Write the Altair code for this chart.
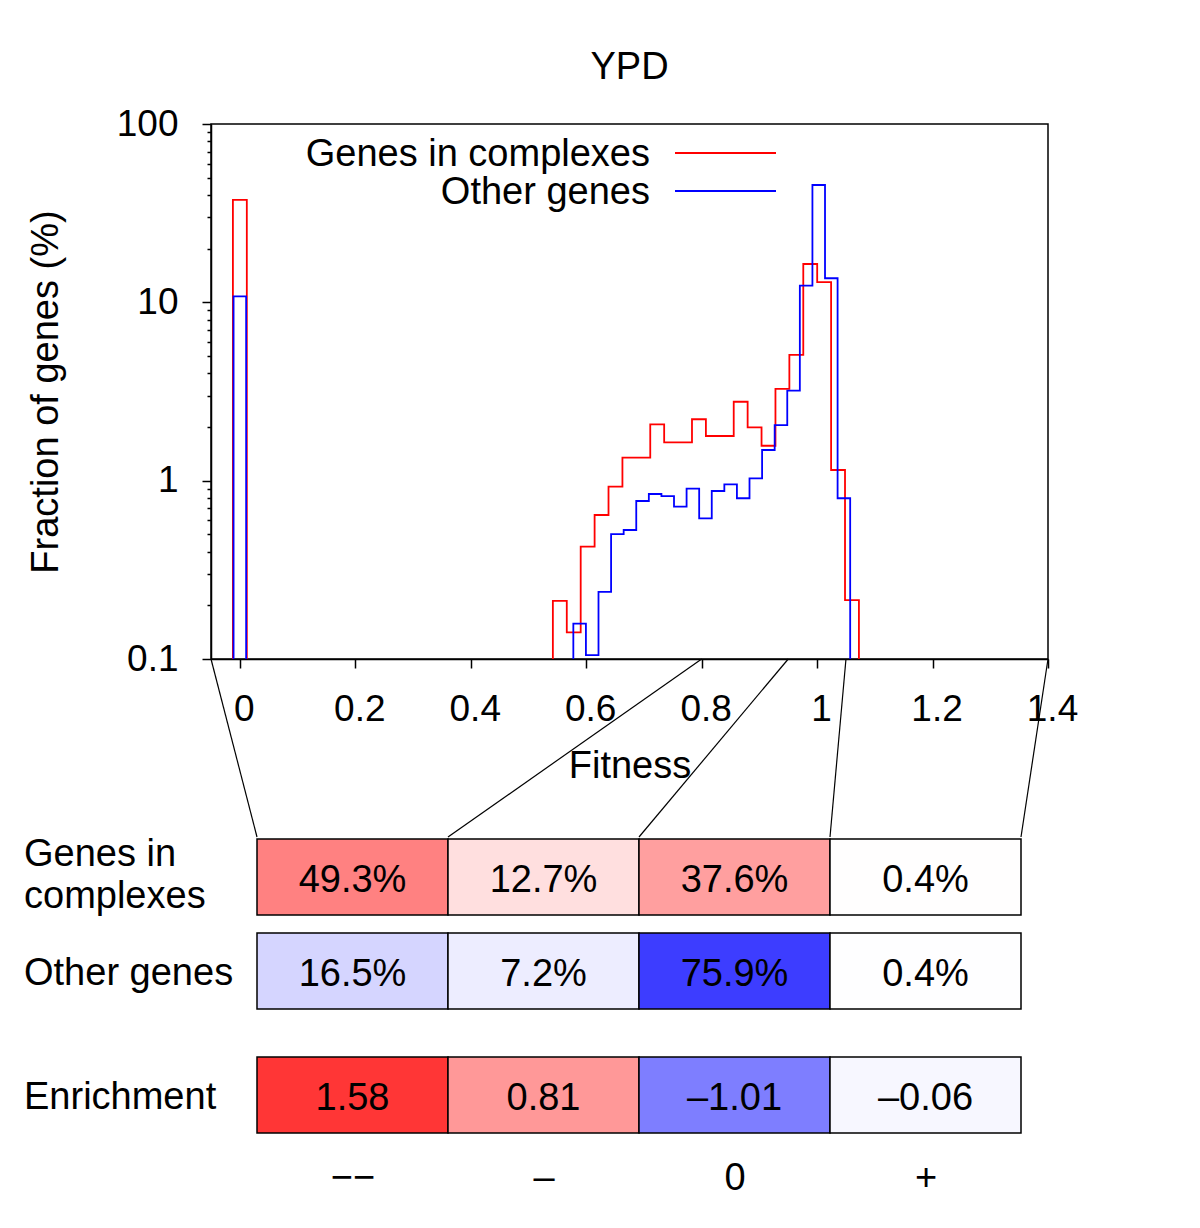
import json
import altair as alt
import pandas as pd

FONT = "Liberation Sans"

# ------------------------------------------------------------------ data
chart_title = "YPD"
series_names = ["Genes in complexes", "Other genes"]
series_colors = ["#ff0000", "#0000ff"]

# Histogram of fitness (% of genes per bin).
# bin k of a series is centred on k * bin_width; the block of bins starts at *_first_bin
complex_bin_width = 0.0241
complex_zero_bin = 37.5
complex_first_bin = 23
complex_values = [0.212, 0.141, 0.427, 0.642, 0.925, 1.346, 1.346, 2.07, 1.64, 1.64, 2.21,
                  1.78, 1.78, 2.77, 1.99, 1.57, 3.27, 5.07, 16.4, 12.97, 1.148, 0.214]

other_bin_width = 0.0218
other_zero_bin = 10.8
other_first_bin = 27
other_values = [0.158, 0.105, 0.238, 0.502, 0.529, 0.769, 0.842, 0.82, 0.715, 0.902, 0.614,
                0.875, 0.954, 0.797, 1.03, 1.486, 2.05, 3.2, 12.4, 45.5, 13.65, 0.797]

x_ticks = [0, 0.2, 0.4, 0.6, 0.8, 1.0, 1.2, 1.4]
y_ticks = [0.1, 1, 10, 100]
y_minor_ticks = [0.2, 0.3, 0.4, 0.5, 0.6, 0.7, 0.8, 0.9,
                 2, 3, 4, 5, 6, 7, 8, 9,
                 20, 30, 40, 50, 60, 70, 80, 90]

# fitness classes
class_edges = [-0.05, 0.8, 0.95, 1.05, 1.4]
class_symbols = ["−−", "–", "0", "+"]
row_labels = ["Genes in\ncomplexes", "Other genes", "Enrichment"]
complex_pct = [49.3, 12.7, 37.6, 0.4]
other_pct = [16.5, 7.2, 75.9, 0.4]
enrichment = [1.58, 0.81, -1.01, -0.06]

# ------------------------------------------------------------------ layout
W, H = 837, 535
X_DOMAIN = [-0.05, 1.4]
Y_DOMAIN = [0.1, 100]
FS = 38
CELL_W = 191
TABLE_LEFT = 46       # px from plot left to table left
TABLE_RIGHT = 27      # px from table right to plot right
ROW_H = 76
ROW_GAPS = [18, 48]
CONNECTOR_DROP = 178  # px from histogram axis to table top
LINE_H = 42
BLOCK_SHIFT = 25      # upward shift per extra label line

c_min = -TABLE_LEFT / CELL_W
c_max = 4 + TABLE_RIGHT / CELL_W


def cell_to_fitness(c):
    return X_DOMAIN[0] + (c - c_min) * (X_DOMAIN[1] - X_DOMAIN[0]) / (c_max - c_min)


# ------------------------------------------------------------------ histogram vertices
def step_frame(width, zero_val, first, values):
    base = Y_DOMAIN[0]
    rows = []
    pts = [(-width / 2, base), (-width / 2, zero_val), (width / 2, zero_val), (width / 2, base)]
    for i, (x, y) in enumerate(pts):
        rows.append({"x": x, "y": y, "seg": "zero", "ord": i})
    edges = [(first + k - 0.5) * width for k in range(len(values) + 1)]
    pts = [(edges[0], base)]
    for k, v in enumerate(values):
        pts.append((edges[k], v))
        pts.append((edges[k + 1], v))
    pts.append((edges[-1], base))
    for i, (x, y) in enumerate(pts):
        rows.append({"x": x, "y": y, "seg": "main", "ord": i})
    return pd.DataFrame(rows)


df_complex = step_frame(complex_bin_width, complex_zero_bin, complex_first_bin, complex_values)
df_other = step_frame(other_bin_width, other_zero_bin, other_first_bin, other_values)

y_table_top = Y_DOMAIN[0] * 10 ** (-CONNECTOR_DROP / (H / 3))
conn_rows = []
for i, e in enumerate(class_edges):
    conn_rows.append({"x": e, "y": Y_DOMAIN[0], "seg": i, "ord": 0})
    conn_rows.append({"x": cell_to_fitness(i), "y": y_table_top, "seg": i, "ord": 1})
df_conn = pd.DataFrame(conn_rows)

x_scale = alt.Scale(domain=X_DOMAIN, nice=False, zero=False)
y_scale = alt.Scale(type="log", domain=Y_DOMAIN, nice=False)

x_enc = alt.X("x:Q", scale=x_scale,
              axis=alt.Axis(values=x_ticks, format="~g", title="Fitness", tickSize=9,
                            labelPadding=23, labelOffset=4, labelFontSize=37,
                            titleFontSize=FS, titlePadding=20, labelFlush=False, grid=False))
y_main = alt.Y("y:Q", scale=y_scale,
               axis=alt.Axis(orient="left", values=y_ticks, format="~g",
                             title="Fraction of genes (%)", tickSize=9, labelPadding=24,
                             labelFontSize=37, titleFontSize=FS, titlePadding=51,
                             labelFlush=False, grid=False))
y_minor = alt.Y("y:Q", scale=y_scale,
                axis=alt.Axis(orient="left", values=y_minor_ticks, labels=False,
                              domain=False, tickSize=4, title=None, grid=False))
y_none = alt.Y("y:Q", scale=y_scale, axis=None)

line_complex = alt.Chart(df_complex).mark_line(
    color=series_colors[0], strokeWidth=1.8, clip=False).encode(
    x=x_enc, y=y_main, detail="seg:N", order="ord:Q")
line_other = alt.Chart(df_other).mark_line(
    color=series_colors[1], strokeWidth=1.8, clip=False).encode(
    x=x_enc, y=y_minor, detail="seg:N", order="ord:Q")
connectors = alt.Chart(df_conn).mark_line(
    color="black", strokeWidth=1.2, strokeJoin="round", clip=False).encode(
    x=x_enc, y=y_none, detail="seg:N", order="ord:Q")

legend_layers = []
for i, (name, col) in enumerate(zip(series_names, series_colors)):
    ly = 29 + 38 * i
    dfl = pd.DataFrame({"t": [name]})
    legend_layers.append(
        alt.Chart(dfl).mark_text(align="right", baseline="middle", fontSize=FS, font=FONT,
                                 color="black").encode(
            text="t:N", x=alt.value(439), y=alt.value(ly + 2)))
    legend_layers.append(
        alt.Chart(dfl).mark_rule(color=col, strokeWidth=1.8).encode(
            x=alt.value(464), x2=alt.value(565), y=alt.value(ly)))

hist = alt.layer(line_complex, line_other, connectors, *legend_layers).resolve_axis(
    y="independent").properties(
    width=W, height=H,
    title=alt.TitleParams(chart_title, fontSize=FS, font=FONT, fontWeight="normal",
                          anchor="middle", offset=18, color="black"),
    view=alt.ViewBackground(stroke="black", strokeWidth=1.5))

# ------------------------------------------------------------------ table
row_tops = [0, ROW_H + ROW_GAPS[0], 2 * ROW_H + ROW_GAPS[0] + ROW_GAPS[1]]
TABLE_H = row_tops[-1] + ROW_H

cells = []
for r, (vals, kind) in enumerate([(complex_pct, "pct+"), (other_pct, "pct-"), (enrichment, "enr")]):
    for c, v in enumerate(vals):
        if kind == "pct+":
            s, txt = v / 100, f"{v:.1f}%"
        elif kind == "pct-":
            s, txt = -v / 100, f"{v:.1f}%"
        else:
            s, txt = v / 2, f"{v:.2f}".replace("-", "–")
        cells.append({"c0": c, "c1": c + 1, "cm": c + 0.5,
                      "top": row_tops[r], "bottom": row_tops[r] + ROW_H,
                      "mid": row_tops[r] + ROW_H / 2, "s": s, "txt": txt})
df_cells = pd.DataFrame(cells)
df_rows = pd.DataFrame({
    "label": row_labels,
    "ly": [t + ROW_H / 2 - lab.count("\n") * BLOCK_SHIFT for t, lab in zip(row_tops, row_labels)]})

tx_scale = alt.Scale(domain=[c_min, c_max], nice=False, zero=False)
ty_scale = alt.Scale(domain=[0, TABLE_H], reverse=True, nice=False, zero=False)
label_expr = json.dumps(class_symbols, ensure_ascii=False) + "[floor(datum.value)]"
tx_axis = alt.Axis(values=[0.5, 1.5, 2.5, 3.5], labelExpr=label_expr, ticks=False, tickSize=0,
                   domain=False, grid=False, title=None, labelFontSize=FS, labelPadding=26,
                   labelFlush=False)

rects = alt.Chart(df_cells).mark_rect(stroke="black", strokeWidth=1.5).encode(
    x=alt.X("c0:Q", scale=tx_scale, axis=tx_axis),
    x2="c1:Q",
    y=alt.Y("top:Q", scale=ty_scale, axis=None),
    y2="bottom:Q",
    color=alt.Color("s:Q", scale=alt.Scale(domain=[-1, 0, 1],
                                           range=["#0000ff", "#ffffff", "#ff0000"],
                                           interpolate="rgb"), legend=None))
cell_text = alt.Chart(df_cells).mark_text(fontSize=FS, font=FONT, baseline="middle",
                                          align="center", dy=4, color="black").encode(
    x=alt.X("cm:Q", scale=tx_scale, axis=tx_axis),
    y=alt.Y("mid:Q", scale=ty_scale, axis=None),
    text="txt:N")
row_text = alt.Chart(df_rows).mark_text(fontSize=FS, font=FONT, baseline="middle",
                                        align="left", lineBreak="\n", lineHeight=LINE_H, dy=3,
                                        color="black").encode(
    x=alt.value(-TABLE_LEFT - 141),
    y=alt.Y("ly:Q", scale=ty_scale, axis=None),
    text="label:N")

table = alt.layer(rects, cell_text, row_text).properties(width=W, height=TABLE_H)

chart = alt.vconcat(hist, table, spacing=-5).properties(
    padding={"left": 16, "top": 40, "right": 10, "bottom": 10}
).configure_view(strokeWidth=0).configure_axis(
    labelFont=FONT, titleFont=FONT, domainColor="black", tickColor="black",
    labelColor="black", titleColor="black", domainWidth=1.5, tickWidth=1.5,
    titleFontWeight="normal")

chart.save("out.html", embed_options={"renderer": "svg", "actions": False})
